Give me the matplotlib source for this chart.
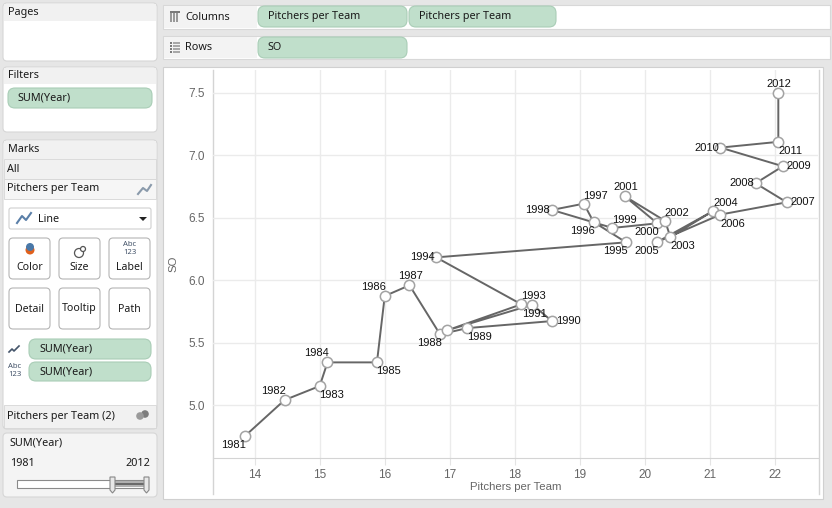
import matplotlib
matplotlib.use("Agg")
import matplotlib.pyplot as plt
from matplotlib.patches import FancyBboxPatch, Rectangle, Circle, Polygon

# ---------------- data ----------------
years = list(range(1981, 2013))
pitchers_per_team = [13.85, 14.46, 15.00, 15.12, 15.88, 16.00, 16.38, 16.85, 17.27, 18.57,
                     18.27, 16.96, 18.10, 16.79, 19.71, 19.21, 19.06, 18.57, 19.50, 20.19,
                     19.69, 20.31, 20.39, 21.05, 20.19, 21.16, 22.18, 21.70, 22.12, 21.16,
                     22.05, 22.05]
so = [4.755, 5.043, 5.155, 5.344, 5.344, 5.874, 5.960, 5.568, 5.618, 5.674,
      5.805, 5.600, 5.808, 6.183, 6.303, 6.466, 6.612, 6.562, 6.418, 6.455,
      6.671, 6.474, 6.346, 6.554, 6.306, 6.525, 6.623, 6.775, 6.911, 7.060,
      7.106, 7.500]
x_ticks = [14, 15, 16, 17, 18, 19, 20, 21, 22]
y_ticks = [5.0, 5.5, 6.0, 6.5, 7.0, 7.5]
x_title = "Pitchers per Team"
y_title = "SO"

# label placement (style): code per year, None = hidden
label_pos = ['bl', 'al', 'br', 'al', 'br', 'al', 'a', 'bl', 'br', 'r',
             'b', None, 'ar', 'l', 'bl', 'bl', 'ar', 'l', 'ar', 'bl',
             'a', 'ar', 'br', 'ar', 'bl', 'br', 'r', 'l', 'r', 'l',
             'br', 'a']
offsets = {'bl': (-11, -9), 'al': (-11, 9), 'br': (12, -9), 'ar': (12, 8),
           'a': (1, 9), 'b': (2, -9), 'r': (16, 0), 'l': (-14, 0)}

W, H = 832, 508
fig = plt.figure(figsize=(W / 100, H / 100), dpi=100)
fig.patch.set_facecolor('#e6e6e6')

ui = fig.add_axes([0, 0, 1, 1])
ui.set_xlim(0, W)
ui.set_ylim(H, 0)
ui.axis('off')

UIFONT = ['Noto Sans', 'DejaVu Sans']
CHARTFONT = ['Liberation Sans', 'DejaVu Sans']
PILL = '#c0dfcb'
PILL_EDGE = '#a9cdb6'
TXT = '#1a1a1a'


def rbox(x0, y0, x1, y1, fc, ec='none', r=4, lw=0.8, z=1):
    p = FancyBboxPatch((x0, y0), x1 - x0, y1 - y0,
                       boxstyle=f"round,pad=0,rounding_size={r}",
                       fc=fc, ec=ec, lw=lw, zorder=z)
    ui.add_patch(p)


def rect(x0, y0, x1, y1, fc, ec='none', lw=0.8, z=1):
    ui.add_patch(Rectangle((x0, y0), x1 - x0, y1 - y0, fc=fc, ec=ec, lw=lw, zorder=z))


def txt(x, y, s, size=8, ha='left', weight='normal', color=TXT, z=5):
    ui.text(x, y, s, fontsize=size, ha=ha, va='center', family=UIFONT,
            fontweight=weight, color=color, zorder=z)


def pill(x0, y0, x1, y1, label):
    rbox(x0, y0, x1, y1, PILL, PILL_EDGE, r=7, lw=0.8, z=3)
    txt(x0 + 10, (y0 + y1) / 2, label, size=7.8)


# ---- Pages panel
rbox(3, 3, 157, 61, 'white', '#d6d6d6', r=4)
rect(4, 4, 156, 21, '#f1f1f1', z=2)
txt(8, 13, 'Pages', size=7.8)

# ---- Columns shelf
rect(163, 5, 830, 29, 'white', '#d8d8d8')
rect(164, 6, 257, 28, '#f3f3f3', z=2)
for i in range(3):
    rect(170 + i * 3.2, 12, 172 + i * 3.2, 22, '#9a9a9a', z=3)
rect(170, 11, 179.5, 12.6, '#7a7a7a', z=3)
txt(185, 17, 'Columns', size=7.8)
pill(258, 6, 407, 27, x_title)
pill(409, 6, 556, 27, x_title)

# ---- Rows shelf
rect(163, 36, 830, 59, 'white', '#d8d8d8')
rect(164, 37, 257, 58, '#f3f3f3', z=2)
for i in range(4):
    rect(170, 42 + i * 3, 172, 43.6 + i * 3, '#7a7a7a', z=3)
    rect(173, 42 + i * 3, 180, 43.6 + i * 3, '#a8a8a8', z=3)
txt(185, 47, 'Rows', size=7.8)
pill(258, 37, 407, 58, y_title)

# ---- Filters panel
rbox(3, 67, 157, 132, 'white', '#d6d6d6', r=4)
rect(4, 68, 156, 84, '#f1f1f1', z=2)
txt(8, 76, 'Filters', size=7.8)
pill(8, 88, 152, 108, 'SUM(Year)')

# ---- Marks panel
rbox(3, 140, 157, 429, 'white', '#d6d6d6', r=4)
rect(4, 141, 156, 159, '#f1f1f1', z=2)
txt(8, 150, 'Marks', size=7.8)
rect(4, 159, 156, 179, '#f1f1f1', '#d6d6d6', lw=0.6, z=2)
txt(7, 169, 'All', size=7.8)
rect(4, 179, 156, 199, '#f6f6f6', '#d6d6d6', lw=0.6, z=2)
txt(7, 189, 'Pitchers per Team', size=7.8, weight='bold')
ui.plot([138, 143, 147, 151], [194, 188, 191, 185], color='#8a9aab', lw=1.5, zorder=4)
rbox(9, 208, 151, 229, 'white', '#cfcfcf', r=2)
ui.plot([17, 22, 26, 31], [223, 216, 220, 213], color='#5a7fa8', lw=1.5, zorder=4)
txt(38, 219, 'Line', size=7.8)
ui.add_patch(Polygon([[139, 217], [147, 217], [143, 221]], closed=True, fc='#222', zorder=4))
btns = [('Color', 9, 238), ('Size', 59, 238), ('Label', 109, 238),
        ('Detail', 9, 288), ('Tooltip', 59, 288), ('Path', 109, 288)]
for name, bx, by in btns:
    rbox(bx, by, bx + 41, by + 41, 'white', '#b5b5b5', r=4)
    ty = by + 30 if by == 238 else by + 21
    txt(bx + 20.5, ty, name, size=7.6, ha='center')
# color icon
ui.add_patch(Circle((30, 250), 4.5, fc='#e0601c', zorder=4))
ui.add_patch(Circle((30, 247), 4, fc='#4a78a8', zorder=5))
# size icon
ui.add_patch(Circle((79, 253), 4.5, fc='none', ec='#555', lw=0.9, zorder=4))
ui.add_patch(Circle((83, 249), 2.5, fc='white', ec='#555', lw=0.9, zorder=5))
# label icon
txt(130, 245, 'Abc', size=5.5, ha='center', color='#44546a')
txt(130, 253, '123', size=5.5, ha='center', color='#44546a')
# shelf pills in marks
ui.plot([9, 12, 14, 17, 19], [352, 349, 351, 348, 346], color='#44546a', lw=1.2, zorder=4)
pill(29, 339, 151, 359, 'SUM(Year)')
txt(15, 367, 'Abc', size=5.5, ha='center', color='#44546a')
txt(15, 375, '123', size=5.5, ha='center', color='#44546a')
pill(29, 362, 151, 381, 'SUM(Year)')
rect(4, 405, 156, 428, '#f1f1f1', '#d6d6d6', lw=0.6, z=2)
txt(7, 416, 'Pitchers per Team (2)', size=7.8)
ui.add_patch(Circle((145, 414), 3.8, fc='#7d7d7d', zorder=4))
ui.add_patch(Circle((140, 416), 3.8, fc='#9a9a9a', zorder=5))

# ---- SUM(Year) filter card
rbox(3, 433, 157, 497, '#f4f4f4', '#d6d6d6', r=4)
txt(9, 443, 'SUM(Year)', size=7.8)
txt(10, 464, str(years[0]), size=7.8)
txt(150, 464, str(years[-1]), size=7.8, ha='right')
rect(17, 480, 148, 488, 'white', '#8a8a8a', lw=0.8, z=3)
rect(113, 481, 146, 487, '#b0b0b0', z=4)
rect(113, 483, 146, 485, '#6a6a6a', z=4)
for hx in (110, 144):
    ui.add_patch(Polygon([[hx, 477], [hx + 5, 477], [hx + 5, 490], [hx + 2.5, 493], [hx, 490]],
                         closed=True, fc='#e8e8e8', ec='#888', lw=0.8, zorder=5))

# ---- chart panel
rect(163, 67, 823, 499, 'white', '#d0d0d0', lw=0.8)
ui.plot([213, 213], [70, 494], color='#d4d4d4', lw=1, zorder=2)
ui.plot([819, 819], [70, 494], color='#d4d4d4', lw=1, zorder=2)
ui.text(173, 264, y_title, rotation=90, fontsize=8.2, color='#666666', family=CHARTFONT,
        ha='center', va='center', zorder=5)

# chart axes (pixel-aligned)
L, R, T, B = 213, 818, 70, 458
ax = fig.add_axes([L / W, 1 - B / H, (R - L) / W, (B - T) / H])
ax.set_facecolor('none')
ax.set_xlim(13.36, 22.66)
ax.set_ylim(4.58, 7.68)
ax.set_xticks(x_ticks)
ax.set_yticks(y_ticks)
ax.set_xticklabels([str(v) for v in x_ticks])
ax.set_yticklabels([f"{v:.1f}" for v in y_ticks])
ax.grid(True, color='#ebebeb', lw=1)
ax.set_axisbelow(True)
for s in ('top', 'right', 'left'):
    ax.spines[s].set_visible(False)
ax.spines['bottom'].set_color('#d4d4d4')
ax.tick_params(axis='x', length=5, color='#e4e4e4', labelsize=8.5, labelcolor='#666666', pad=3)
ax.tick_params(axis='y', length=0, labelsize=8.5, labelcolor='#666666', pad=6)
for lab in ax.get_xticklabels() + ax.get_yticklabels():
    lab.set_family(CHARTFONT)
ax.set_xlabel(x_title, fontsize=8.2, color='#666666', family=CHARTFONT, labelpad=1)

ax.plot(pitchers_per_team, so, color='#666666', lw=1.4, zorder=2, solid_joinstyle='round')
ax.scatter(pitchers_per_team, so, s=55, facecolor='white', edgecolor='#a3a3a3',
           linewidths=1.1, zorder=3)
for yr, xv, yv, pos in zip(years, pitchers_per_team, so, label_pos):
    if pos is None:
        continue
    dx, dy = offsets[pos]
    ax.annotate(str(yr), (xv, yv), xytext=(dx, dy), textcoords='offset pixels',
                ha='center', va='center', fontsize=8, color='#111111',
                family=CHARTFONT, zorder=4)

fig.savefig('out.png', dpi=100, facecolor=fig.get_facecolor())
